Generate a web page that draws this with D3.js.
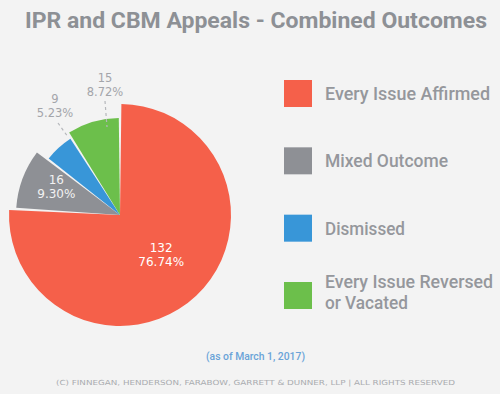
<!DOCTYPE html>
<html>
<head>
<meta charset="utf-8">
<script src="https://cdn.jsdelivr.net/npm/d3@7"></script>
<style>
  body { margin: 0; background: #f3f3f3; }
  svg { display: block; }
</style>
</head>
<body>
<div id="chart"></div>
<script>
// Données
const categories = ["Every Issue Affirmed", "Mixed Outcome", "Dismissed", "Every Issue Reversed or Vacated"];
const counts = [132, 16, 9, 15];
const percents = ["76.74%", "9.30%", "5.23%", "8.72%"];
const colors = ["#f5604a", "#8e9095", "#3896d8", "#6cbf4b"];

const width = 500, height = 394;

const svg = d3.select("#chart")
    .append("svg")
    .attr("width", width)
    .attr("height", height);

svg.append("rect").attr("width", width).attr("height", height).attr("fill", "#f3f3f3");

// Titre
svg.append("text")
    .attr("x", 25).attr("y", 28)
    .attr("textLength", 462)
    .attr("lengthAdjust", "spacingAndGlyphs")
    .style("font-family", "Roboto, sans-serif")
    .style("font-weight", "bold")
    .style("font-size", "22px")
    .style("fill", "#8d9095")
    .text("IPR and CBM Appeals - Combined Outcomes");

// Camembert
const cx = 120, cy = 215;
const radius = [111, 104, 91, 97]; // chaque part a son propre rayon dans l'original

const pie = d3.pie().sort(null).value(d => d).padAngle(0.025);
const arcs = pie(counts);

const g = svg.append("g").attr("transform", `translate(${cx},${cy})`);

g.selectAll("path")
    .data(arcs)
    .enter()
    .append("path")
    .attr("fill", (d, i) => colors[i])
    .attr("d", (d, i) => d3.arc().innerRadius(0).outerRadius(radius[i])(d));

// Étiquettes : dans les deux grandes parts, au-dessus pour les deux petites
const labelArc = [
    d3.arc().innerRadius(60).outerRadius(60),
    d3.arc().innerRadius(68).outerRadius(68)
];
const labelStyle = [
    { fill: "#fff", size: "12px" },
    { fill: "#f2f2f2", size: "12px" },
    { fill: "#a3a5aa", size: "11.5px" },
    { fill: "#a3a5aa", size: "11.5px" }
];
const outerPos = { 2: [-65, -112], 3: [-15, -133] };

arcs.forEach((d, i) => {
    let p;
    if (i < 2) {
        const c = labelArc[i].centroid(d);
        p = [c[0], c[1] - 7];
    } else {
        p = outerPos[i];
    }
    const t = g.append("text")
        .attr("text-anchor", "middle")
        .style("font-family", "'DejaVu Sans', sans-serif")
        .style("font-size", labelStyle[i].size)
        .style("fill", labelStyle[i].fill);
    t.append("tspan").attr("x", p[0]).attr("y", p[1]).text(counts[i]);
    t.append("tspan").attr("x", p[0]).attr("y", p[1] + 14).text(percents[i]);
});

// Lignes pointillées vers les petites parts
const leaders = [
    { x1: -62, y1: -92, x2: -52, y2: -78 },
    { x1: -15, y1: -114, x2: -13, y2: -88 }
];
g.selectAll("line.leader")
    .data(leaders)
    .enter()
    .append("line")
    .attr("class", "leader")
    .attr("x1", d => d.x1).attr("y1", d => d.y1)
    .attr("x2", d => d.x2).attr("y2", d => d.y2)
    .attr("stroke", "#b5b7bb")
    .attr("stroke-width", 1.2)
    .attr("stroke-dasharray", "3,3");

// Légende
const y = d3.scalePoint().domain(categories).range([80, 282]);

const legend = svg.append("g")
    .selectAll("g")
    .data(categories)
    .enter()
    .append("g")
    .attr("transform", d => `translate(284,${y(d)})`);

legend.append("rect")
    .attr("width", 28).attr("height", 27)
    .attr("fill", (d, i) => colors[i]);

const legendText = legend.append("text")
    .style("font-family", "Roboto, sans-serif")
    .style("font-size", "18px")
    .style("font-weight", "500")
    .style("fill", "#95979c");

// largeurs mesurées sur l'original (police étroite)
const lineWidth = { "Every Issue Affirmed": 165, "Mixed Outcome": 123, "Dismissed": 80,
    "Every Issue Reversed": 168, "or Vacated": 83 };

legendText.each(function (d, i) {
    const t = d3.select(this);
    const lines = i === 3 ? ["Every Issue Reversed", "or Vacated"] : [d];
    const y0 = i === 3 ? 6 : 20;
    lines.forEach((s, k) => {
        t.append("tspan")
            .attr("x", 41).attr("y", y0 + k * 21)
            .attr("textLength", lineWidth[s])
            .attr("lengthAdjust", "spacingAndGlyphs")
            .text(s);
    });
});

// Pied de page
svg.append("text")
    .attr("x", 206).attr("y", 360)
    .attr("textLength", 99)
    .attr("lengthAdjust", "spacingAndGlyphs")
    .style("font-family", "Roboto, sans-serif")
    .style("font-weight", "500")
    .style("font-size", "11.5px")
    .style("fill", "#6aa3d8")
    .text("(as of March 1, 2017)");

svg.append("text")
    .attr("x", 56).attr("y", 385)
    .attr("textLength", 399)
    .attr("lengthAdjust", "spacingAndGlyphs")
    .style("font-family", "'DejaVu Sans', sans-serif")
    .style("font-size", "7px")
    .style("fill", "#a9abaf")
    .text("(C) FINNEGAN, HENDERSON, FARABOW, GARRETT & DUNNER, LLP | ALL RIGHTS RESERVED");
</script>
</body>
</html>
